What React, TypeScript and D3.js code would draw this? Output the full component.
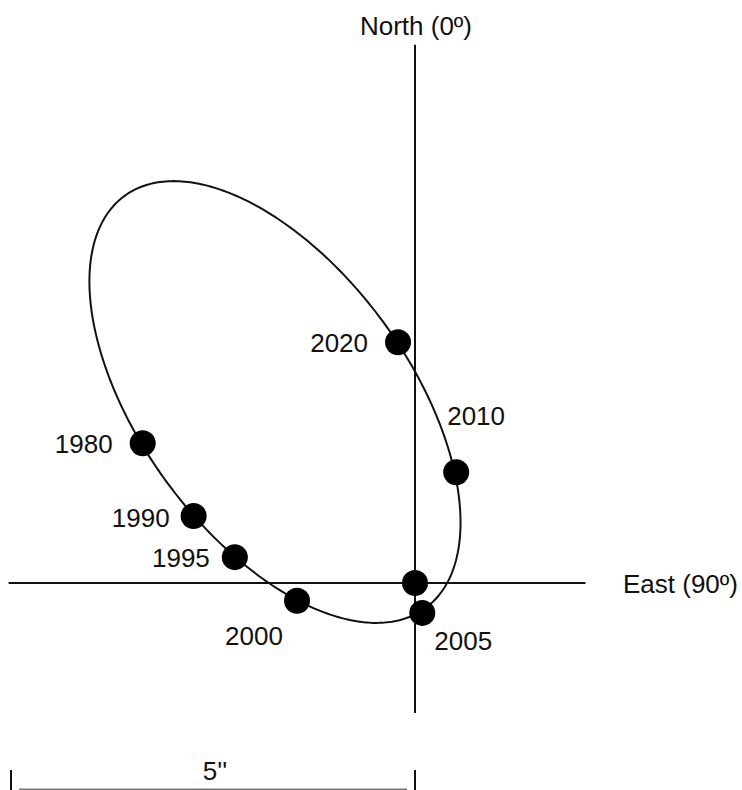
import React from "react";
import * as d3 from "d3";

// Observed positions of the companion relative to the primary (arcseconds)
const years = ["1980", "1990", "1995", "2000", "2005", "2010", "2020"];
const eastOffsets = [-3.37, -2.74, -2.23, -1.46, 0.09, 0.51, -0.21];
const northOffsets = [1.73, 0.83, 0.32, -0.22, -0.37, 1.37, 2.98];

// Apparent orbit (ellipse) parameters, arcseconds / degrees
const orbitCenter = [-1.733, 2.24];
const orbitSemiMajor = 3.158;
const orbitSemiMinor = 1.666;
const orbitAngleDeg = -53.9;

// Axis extents (arcseconds)
const eastAxisRange = [-5.03, 2.11];
const northAxisRange = [-1.61, 6.66];
const scaleBarArcsec = 5;
const axisLabels = ["North (0º)", "East (90º)"];

const W = 742;
const H = 790;

export default function App() {
  const x = d3.scaleLinear().domain([-5, 5]).range([415 - 404, 415 + 404]);
  const y = d3.scaleLinear().domain([-5, 5]).range([583 + 404, 583 - 404]);

  const phi = (orbitAngleDeg * Math.PI) / 180;
  const thetas = d3.range(0, 360, 1).map((d) => (d * Math.PI) / 180);
  const orbitPts: [number, number][] = thetas.map((t) => {
    const u = orbitSemiMajor * Math.cos(t);
    const v = orbitSemiMinor * Math.sin(t);
    const e = orbitCenter[0] + u * Math.cos(phi) - v * Math.sin(phi);
    const n = orbitCenter[1] + u * Math.sin(phi) + v * Math.cos(phi);
    return [e, n];
  });
  const orbitPath = d3
    .line<[number, number]>()
    .x((d) => x(d[0]))
    .y((d) => y(d[1]))
    .curve(d3.curveLinearClosed)(orbitPts);

  // label placement relative to dot (px)
  const labelPlace: Record<string, [number, number, string]> = {
    "1980": [-30, 10, "end"],
    "1990": [-24, 11, "end"],
    "1995": [-25, 10, "end"],
    "2000": [-43, 44, "middle"],
    "2005": [12, 37, "start"],
    "2010": [-9, -47, "start"],
    "2020": [-30, 10, "end"],
  };

  const font = "'Liberation Sans', Arial, Helvetica, sans-serif";
  const fs = 26;

  return (
    <svg
      width={W}
      height={H}
      style={{ position: "absolute", left: 0, top: 0, background: "#fff" }}
      fontFamily={font}
    >
      <rect x={0} y={0} width={W} height={H} fill="#fff" />
      {/* axes */}
      <line
        x1={x(eastAxisRange[0])}
        x2={x(eastAxisRange[1])}
        y1={y(0)}
        y2={y(0)}
        stroke="#111"
        strokeWidth={2}
      />
      <line
        x1={x(0)}
        x2={x(0)}
        y1={y(northAxisRange[0])}
        y2={y(northAxisRange[1])}
        stroke="#111"
        strokeWidth={2}
      />
      <text x={x(0) + 1} y={35} fontSize={fs} textAnchor="middle" fill="#111">
        {axisLabels[0]}
      </text>
      <text x={623} y={y(0) + 10} fontSize={fs} textAnchor="start" fill="#111">
        {axisLabels[1]}
      </text>

      {/* orbit */}
      <path d={orbitPath || ""} fill="none" stroke="#111" strokeWidth={2} />

      {/* primary star */}
      <circle cx={x(0)} cy={y(0)} r={13} fill="#000" />

      {/* companion positions */}
      {years.map((yr, i) => {
        const cx = x(eastOffsets[i]);
        const cy = y(northOffsets[i]);
        const p = labelPlace[yr];
        return (
          <g key={yr}>
            <circle cx={cx} cy={cy} r={13} fill="#000" />
            <text
              x={cx + p[0]}
              y={cy + p[1]}
              fontSize={fs}
              textAnchor={p[2] as any}
              fill="#111"
            >
              {yr}
            </text>
          </g>
        );
      })}

      {/* scale bar */}
      <line x1={x(-scaleBarArcsec)} x2={x(-scaleBarArcsec)} y1={770} y2={790} stroke="#111" strokeWidth={2} />
      <line x1={x(0)} x2={x(0)} y1={770} y2={790} stroke="#111" strokeWidth={2} />
      <line
        x1={x(-scaleBarArcsec) + 8}
        x2={x(0) - 8}
        y1={790}
        y2={790}
        stroke="#777"
        strokeWidth={3}
      />
      <text
        x={(x(-scaleBarArcsec) + x(0)) / 2 + 2}
        y={780}
        fontSize={fs}
        textAnchor="middle"
        fill="#111"
      >
        {`${scaleBarArcsec}''`}
      </text>
    </svg>
  );
}
